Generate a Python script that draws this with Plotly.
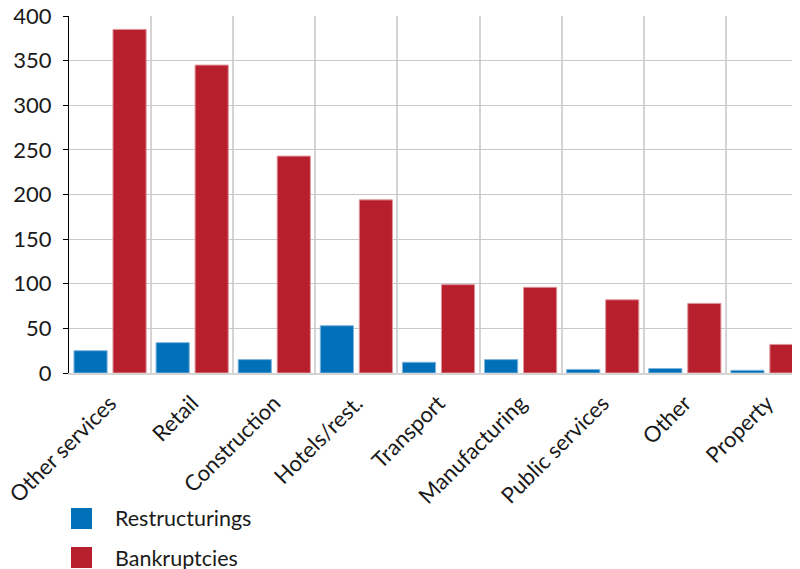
import plotly.graph_objects as go

categories = ["Other services", "Retail", "Construction", "Hotels/rest.", "Transport",
              "Manufacturing", "Public services", "Other", "Property"]
restructurings = [25, 34, 15, 53, 12, 15, 4, 5, 3]
bankruptcies = [385, 345, 243, 194, 99, 96, 82, 78, 32]
y_ticks = [0, 50, 100, 150, 200, 250, 300, 350, 400]
series_names = ["Restructurings", "Bankruptcies"]

BLUE = "#0070b8"
RED = "#b81f2d"
FONT = "Lato, 'Open Sans', sans-serif"

# page has an 8px body margin; the plot area should sit at x=69..(clipped), y=16..373 on the page
OFF = 8
L, T = 69 - OFF, 16 - OFF
B = 569 - (373 - OFF)
H = 373 - 16           # plot height in px
W = 800 - L            # plot width in px

fig = go.Figure()
fig.add_trace(go.Bar(x=categories, y=restructurings, name=series_names[0],
                     marker=dict(color=BLUE, line=dict(color="#7fb3dc", width=1)),
                     showlegend=False))
fig.add_trace(go.Bar(x=categories, y=bankruptcies, name=series_names[1],
                     marker=dict(color=RED, line=dict(color="#e0949b", width=1)),
                     showlegend=False))

# manual legend (squares + labels) below the plot, in paper coordinates (page px -> paper)
legend_rows = [(series_names[0], BLUE, 508), (series_names[1], RED, 547)]
for name, col, top in legend_rows:
    y0 = (373 - top) / H
    y1 = (373 - (top + 21)) / H
    fig.add_shape(type="rect", xref="paper", yref="paper",
                  x0=(71 - 69) / W, x1=(92 - 69) / W, y0=y0, y1=y1,
                  fillcolor=col, line=dict(width=0))
    fig.add_annotation(text=name, xref="paper", yref="paper",
                       x=(113 - 69) / W, y=(y0 + y1) / 2, xanchor="left", yanchor="middle",
                       showarrow=False, font=dict(size=21.5, color="#1a1a1a", family=FONT))

fig.update_layout(
    width=800, height=569,
    margin=dict(l=L, r=0, t=T, b=B, autoexpand=False),
    paper_bgcolor="white", plot_bgcolor="white",
    barmode="group", bargap=0.05, bargroupgap=0.15,
    font=dict(family=FONT, size=22, color="#1a1a1a"),
    showlegend=False,
    xaxis=dict(type="category", range=[-0.5, 8.5], tickson="boundaries",
               tickangle=-45, showgrid=True, gridcolor="#d4d4d4", gridwidth=1.5,
               showline=True, linecolor="#d4d4d4", linewidth=1.5, ticks="",
               tickfont=dict(size=22), automargin=False, ticklabelstandoff=7,
               ticklabeloverflow="allow"),
    yaxis=dict(range=[0, 400], tickvals=y_ticks, showgrid=True, gridcolor="#c8c8c8",
               gridwidth=1, showline=True, linecolor="#000000", linewidth=1,
               ticks="outside", ticklen=5, tickcolor="#000000", zeroline=False,
               tickfont=dict(size=22), automargin=False, ticklabelstandoff=7,
               ticklabeloverflow="allow"),
)

fig.write_html("out.html")
